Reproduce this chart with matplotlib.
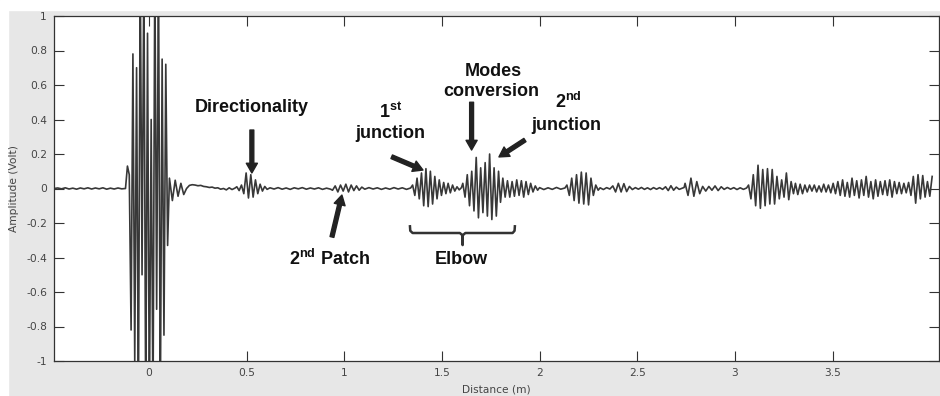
import numpy as np
import matplotlib
matplotlib.use('Agg')
import matplotlib.pyplot as plt
from matplotlib.patches import Rectangle

plt.rcParams['mathtext.fontset'] = 'custom'
plt.rcParams['mathtext.bf'] = 'Liberation Sans:bold'
plt.rcParams['mathtext.rm'] = 'Liberation Sans'

# Peak values of the trace (Volt)
pre_quiet = [0.0, 0.003, -0.002, 0.004, -0.003, 0.002, -0.004, 0.003, -0.002, 0.004,
             -0.003, 0.003, -0.002, 0.004, -0.004, 0.002, -0.003, 0.003, -0.002, 0.0]
burst = [0.13, 0.08, -0.82, 0.78, -1.0, 0.7, -1.3, 1.3, -0.5, 1.3, -1.3, 0.9, -1.3, 0.4,
         -1.3, 1.3, -0.7, 1.3, -1.3, 0.75, -0.85, 0.72, -0.33, 0.06]
burst_tail = [-0.07, 0.048, -0.045, 0.03, -0.035, 0.0, 0.018, 0.022, 0.02, 0.016, 0.018,
              0.012, 0.01, 0.006, 0.008, 0.002, 0.004, -0.004, 0.0, -0.008, 0.004, -0.006, 0.002]
directionality = [0.01, -0.012, 0.02, -0.03, 0.09, -0.055, 0.08, -0.05, 0.05, -0.03,
                  0.025, -0.015, 0.012, -0.005]
quiet_1 = [0.004, -0.003, 0.005, -0.004, 0.003, -0.005, 0.004, -0.002, 0.005, -0.004,
           0.003, -0.003, 0.004, -0.005, 0.002, -0.004]
patch_2 = [-0.01, 0.015, -0.02, 0.02, -0.015, 0.025, -0.02, 0.02, -0.012, 0.015, -0.01, 0.008]
quiet_2 = [-0.004, 0.005, -0.003, 0.004, -0.005, 0.003, -0.004, 0.005, -0.003, 0.004, -0.005, 0.003]
junction_1 = [0.02, -0.04, 0.06, -0.06, 0.09, -0.1, 0.115, -0.105, 0.1, -0.09, 0.07, -0.06,
              0.05, -0.04, 0.035, -0.03, 0.03, -0.025, 0.02, -0.015, 0.01, -0.008, 0.005]
modes = [0.03, -0.05, 0.08, -0.1, 0.1, -0.13, 0.18, -0.17, 0.12, -0.14, 0.15, -0.16,
         0.2, -0.18, 0.12, -0.16, 0.1]
modes_ring = [-0.08, 0.06, -0.05, 0.045, -0.05, 0.04, -0.045, 0.05, -0.04, 0.045, -0.05,
              0.04, -0.035, 0.03, -0.02, 0.015, -0.01]
quiet_3 = [0.005, -0.006, 0.004, -0.005, 0.006, -0.004, 0.003]
packet_22 = [0.02, -0.04, 0.06, -0.07, 0.08, -0.085, 0.095, -0.09, 0.09, -0.095, 0.06,
             -0.04, 0.02, -0.01]
quiet_4 = [0.004, -0.006, 0.005, -0.003]
small_24 = [0.015, -0.02, 0.03, -0.02, 0.028, -0.018, 0.012]
quiet_5 = [-0.006, 0.005, -0.004, 0.006, -0.005, 0.004, -0.006, 0.005, -0.004, 0.005, -0.005]
small_265 = [0.01, -0.012, 0.016, -0.01, 0.008]
quiet_6 = [-0.005, 0.006]
packet_275 = [0.03, -0.04, 0.06, -0.045, 0.04, -0.03]
small_29 = [0.012, -0.015, 0.012, -0.01, 0.015, -0.012, 0.01]
quiet_7 = [-0.005, 0.006, -0.004, 0.005, -0.006, 0.004, -0.005, 0.003]
packet_31 = [0.02, -0.06, 0.08, -0.1, 0.135, -0.115, 0.11, -0.1, 0.115, -0.09, 0.11, -0.09,
             0.07, -0.06, 0.05, -0.05, 0.09, -0.065, 0.04, -0.03]
end_noise = [0.03, -0.035, 0.025, -0.03, 0.02,
             -0.02, 0.02, -0.015, 0.02, -0.02, 0.015, -0.02, 0.025, -0.02, 0.02, -0.025, 0.03, -0.03,
             0.04, -0.04, 0.05, -0.045, 0.035, -0.05, 0.06, -0.04, 0.045, -0.055, 0.05, -0.04,
             0.07, -0.05, 0.04, -0.06, 0.05, -0.045, 0.04, -0.035, 0.045, -0.04, 0.05, -0.05,
             0.04, -0.03, 0.035, -0.03,
             0.03, -0.025, 0.035,
             -0.04, 0.07, -0.085, 0.08, -0.06, 0.075, -0.05, 0.04, -0.045, 0.07]

# distance span (m) covered by each stretch
segments = [
    (pre_quiet, -0.486, -0.12), (burst, -0.11, 0.105), (burst_tail, 0.12, 0.44),
    (directionality, 0.45, 0.605), (quiet_1, 0.62, 0.93), (patch_2, 0.94, 1.09),
    (quiet_2, 1.105, 1.34), (junction_1, 1.35, 1.60), (modes, 1.607, 1.79),
    (modes_ring, 1.80, 1.99), (quiet_3, 2.0, 2.13), (packet_22, 2.14, 2.30),
    (quiet_4, 2.31, 2.36), (small_24, 2.375, 2.46), (quiet_5, 2.475, 2.63),
    (small_265, 2.645, 2.70), (quiet_6, 2.715, 2.74), (packet_275, 2.745, 2.82),
    (small_29, 2.835, 2.93), (quiet_7, 2.945, 3.06), (packet_31, 3.07, 3.30),
    (end_noise, 3.31, 4.01),
]

dist = np.concatenate([np.linspace(a, b, len(v)) for v, a, b in segments])
amp = np.concatenate([np.array(v, dtype=float) for v, a, b in segments])

x_ticks = [0, 0.5, 1, 1.5, 2, 2.5, 3, 3.5]
x_labels = ['0', '0.5', '1', '1.5', '2', '2.5', '3', '3.5']
y_ticks = [-1, -0.8, -0.6, -0.4, -0.2, 0, 0.2, 0.4, 0.6, 0.8, 1]
y_labels = ['-1', '-0.8', '-0.6', '-0.4', '-0.2', '0', '0.2', '0.4', '0.6', '0.8', '1']

fig = plt.figure(figsize=(9.4, 3.96), dpi=100)
fig.patch.set_facecolor('#e7e7e7')
# white border of the original screenshot
fig.add_artist(Rectangle((0, 1 - 10 / 396), 1, 10 / 396, transform=fig.transFigure,
                         color='white', zorder=0))
fig.add_artist(Rectangle((0, 0), 8 / 940, 1, transform=fig.transFigure,
                         color='white', zorder=0))

ax = fig.add_axes([54 / 940, 35 / 396, 885 / 940, 345 / 396])
ax.set_facecolor('white')
ax.plot(dist, amp, color='#383838', lw=1.2)
ax.set_xlim(-0.486, 4.045)
ax.set_ylim(-1, 1)

ax.set_xticks(x_ticks)
ax.set_xticklabels(x_labels)
ax.set_yticks(y_ticks)
ax.set_yticklabels(y_labels)
ax.tick_params(direction='in', length=7, width=0.8, top=True, right=True,
               labelsize=7.7, pad=5, colors='#333333', labelcolor='#444444')
for s in ax.spines.values():
    s.set_color('#333333')
    s.set_linewidth(0.9)

ax.set_xlabel('Distance (m)', fontsize=7.7, color='#444444')
ax.set_ylabel('Amplitude (Volt)', fontsize=7.7, color='#444444')
ax.xaxis.set_label_coords(0.5, -0.069)
ax.yaxis.set_label_coords(-0.040, 0.5)

font = dict(family='Liberation Sans', weight='bold', size=13, color='#111111')
arrow = dict(facecolor='#222222', edgecolor='#222222', width=2.8, headwidth=8,
             headlength=7, shrink=0)

def label_arrow(tail, tip):
    ax.annotate('', xy=tip, xytext=tail, arrowprops=arrow)

ax.text(0.527, 0.472, 'Directionality', ha='center', va='center', **font)
label_arrow((0.527, 0.339), (0.527, 0.09))

ax.text(0.922, -0.409, r'2$^{\mathbf{nd}}$ Patch', ha='center', va='center', **font)
label_arrow((0.937, -0.281), (0.988, -0.038))

ax.text(1.239, 0.443, r'1$^{\mathbf{st}}$', ha='center', va='center', **font)
ax.text(1.234, 0.319, 'junction', ha='center', va='center', **font)
label_arrow((1.243, 0.184), (1.403, 0.107))

ax.text(1.765, 0.68, 'Modes', ha='center', va='center', **font)
ax.text(1.752, 0.56, 'conversion', ha='center', va='center', **font)
label_arrow((1.652, 0.50), (1.652, 0.223))

ax.text(2.145, 0.50, r'2$^{\mathbf{nd}}$', ha='center', va='center', **font)
ax.text(2.138, 0.365, 'junction', ha='center', va='center', **font)
label_arrow((1.925, 0.281), (1.792, 0.183))

# brace under the elbow
brace_x = [1.336, 1.338, 1.350, 1.592, 1.604, 1.606, 1.606, 1.608, 1.620, 1.862, 1.872, 1.874]
brace_y = [-0.212, -0.245, -0.258, -0.258, -0.27, -0.328, -0.27, -0.27, -0.258, -0.258, -0.245, -0.212]
ax.plot(brace_x, brace_y, color='#333333', lw=1.8, solid_capstyle='butt')
ax.text(1.598, -0.409, 'Elbow', ha='center', va='center', **font)

fig.savefig('out.png', dpi=100, facecolor=fig.get_facecolor())
